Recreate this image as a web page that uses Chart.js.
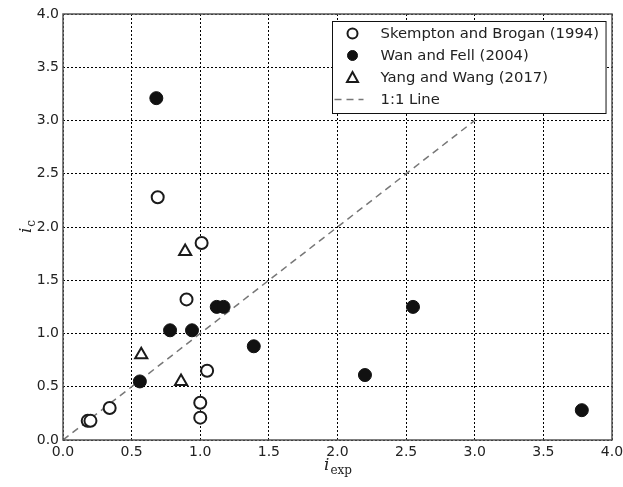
<!DOCTYPE html>
<html>
<head>
<meta charset="utf-8">
<script src="https://cdn.jsdelivr.net/npm/chart.js@4.4.1/dist/chart.umd.min.js"></script>
<style>
  body { margin: 0; background: #fff; }
  #wrap { width: 623px; height: 487px; }
</style>
</head>
<body>
<div id="wrap"><canvas id="myChart" width="623" height="487"></canvas></div>
<script>
// data
const skemptonX = [0.69, 1.01, 0.90, 1.05, 1.00, 1.00, 0.34, 0.18, 0.20];
const skemptonY = [2.28, 1.85, 1.32, 0.65, 0.35, 0.21, 0.30, 0.18, 0.18];
const wanX = [0.68, 0.78, 0.94, 1.12, 1.17, 1.39, 0.56, 2.55, 2.20, 3.78];
const wanY = [3.21, 1.03, 1.03, 1.25, 1.25, 0.88, 0.55, 1.25, 0.61, 0.28];
const yangX = [0.89, 0.57, 0.86];
const yangY = [1.77, 0.80, 0.55];
const lineX = [0, 3];
const lineY = [0, 3];
const labels = ['Skempton and Brogan (1994)', 'Wan and Fell (2004)', 'Yang and Wang (2017)', '1:1 Line'];
const axisMin = 0, axisMax = 4, axisStep = 0.5;

function pts(xs, ys) {
  return xs.map((x, i) => ({ x: x, y: ys[i] }));
}

const tickFont = { family: 'DejaVu Sans', size: 14 };

// matplotlib style box round the plot
const frame = {
  id: 'frame',
  afterDatasetsDraw(chart) {
    const a = chart.chartArea, ctx = chart.ctx;
    ctx.save();
    ctx.strokeStyle = '#555';
    ctx.lineWidth = 1.5;
    ctx.strokeRect(a.left, a.top, a.right - a.left, a.bottom - a.top);
    ctx.restore();
  }
};

// axis titles with subscripts
const axisTitles = {
  id: 'axisTitles',
  afterDraw(chart) {
    const a = chart.chartArea, ctx = chart.ctx;
    ctx.save();
    ctx.fillStyle = '#222';
    ctx.textBaseline = 'alphabetic';
    // x title
    let cx = (a.left + a.right) / 2;
    ctx.font = 'italic 17px "DejaVu Serif"';
    const wi = ctx.measureText('i').width;
    ctx.font = '12px "DejaVu Serif"';
    const ws = ctx.measureText('exp').width;
    let x0 = cx - (wi + ws) / 2;
    ctx.font = 'italic 17px "DejaVu Serif"';
    ctx.fillText('i', x0, 470);
    ctx.font = '12px "DejaVu Serif"';
    ctx.fillText('exp', x0 + wi + 1, 474);
    // y title
    const cy = (a.top + a.bottom) / 2;
    ctx.translate(31, cy);
    ctx.rotate(-Math.PI / 2);
    ctx.font = '12px "DejaVu Serif"';
    const wc = ctx.measureText('c').width;
    x0 = -(wi + wc) / 2;
    ctx.font = 'italic 17px "DejaVu Serif"';
    ctx.fillText('i', x0, 0);
    ctx.font = '12px "DejaVu Serif"';
    ctx.fillText('c', x0 + wi + 1, 4);
    ctx.restore();
  }
};

// boxed legend in the top right corner
const boxLegend = {
  id: 'boxLegend',
  afterDraw(chart) {
    const a = chart.chartArea, ctx = chart.ctx;
    const ds = chart.data.datasets;
    ctx.save();
    ctx.font = '14.8px "DejaVu Sans"';
    let tw = 0;
    ds.forEach(d => { tw = Math.max(tw, ctx.measureText(d.label).width); });
    const rowH = 22;
    const w = 48 + tw + 7, h = rowH * ds.length + 4;
    const left = Math.round(a.right - 6 - w) + 0.5, top = Math.round(a.top + 7) + 0.5;
    ctx.fillStyle = '#fff';
    ctx.fillRect(left, top, w, h);
    ctx.strokeStyle = '#111';
    ctx.lineWidth = 1;
    ctx.strokeRect(left, top, w, h);
    ds.forEach((d, i) => {
      const cy = top + 12 + i * rowH;
      const mx = left + 20;
      if (d.showLine) {
        ctx.save();
        ctx.strokeStyle = d.borderColor;
        ctx.lineWidth = d.borderWidth;
        ctx.setLineDash(d.borderDash);
        ctx.beginPath();
        ctx.moveTo(left + 2, cy);
        ctx.lineTo(left + 31, cy);
        ctx.stroke();
        ctx.restore();
      } else {
        ctx.fillStyle = d.backgroundColor;
        ctx.strokeStyle = d.borderColor;
        ctx.lineWidth = d.borderWidth;
        ctx.beginPath();
        if (d.pointStyle === 'triangle') {
          const r = 5.5;
          ctx.moveTo(mx, cy - r);
          ctx.lineTo(mx + r, cy + r * 0.8);
          ctx.lineTo(mx - r, cy + r * 0.8);
          ctx.closePath();
        } else {
          ctx.arc(mx, cy, 5, 0, Math.PI * 2);
        }
        ctx.fill();
        ctx.stroke();
      }
      ctx.fillStyle = '#222';
      ctx.textBaseline = 'middle';
      ctx.fillText(d.label, left + 48, cy + 1);
    });
    ctx.restore();
  }
};

const ctx = document.getElementById('myChart').getContext('2d');

let myChart = new Chart(ctx, {
  type: 'scatter',
  data: {
    datasets: [
      {
        label: labels[0],
        data: pts(skemptonX, skemptonY),
        pointStyle: 'circle',
        pointRadius: 6,
        backgroundColor: '#fff',
        borderColor: '#1a1a1a',
        borderWidth: 2,
        order: 1
      },
      {
        label: labels[1],
        data: pts(wanX, wanY),
        pointStyle: 'circle',
        pointRadius: 6.5,
        backgroundColor: '#111',
        borderColor: '#111',
        borderWidth: 1,
        order: 1
      },
      {
        label: labels[2],
        data: pts(yangX, yangY),
        pointStyle: 'triangle',
        pointRadius: 7,
        backgroundColor: '#fff',
        borderColor: '#1a1a1a',
        borderWidth: 2,
        order: 1
      },
      {
        label: labels[3],
        data: pts(lineX, lineY),
        showLine: true,
        pointRadius: 0,
        borderColor: '#777',
        backgroundColor: '#777',
        borderWidth: 1.5,
        borderDash: [7, 5],
        order: 10
      }
    ]
  },
  options: {
    responsive: false,
    animation: false,
    layout: { padding: { top: 14, right: 11, left: 0, bottom: 0 } },
    plugins: {
      legend: { display: false },
      tooltip: { enabled: false }
    },
    scales: {
      x: {
        type: 'linear',
        min: axisMin,
        max: axisMax,
        ticks: {
          stepSize: axisStep,
          font: tickFont,
          color: '#222',
          padding: 4,
          maxRotation: 0,
          callback: v => v.toFixed(1)
        },
        grid: { color: '#000', lineWidth: 1, drawTicks: false },
        border: { display: true, width: 0, dash: [2, 2] },
        afterFit(scale) { scale.height = 47; scale.paddingLeft = 0; scale.paddingRight = 0; }
      },
      y: {
        type: 'linear',
        min: axisMin,
        max: axisMax,
        ticks: {
          stepSize: axisStep,
          font: tickFont,
          color: '#222',
          padding: 4,
          callback: v => v.toFixed(1)
        },
        grid: { color: '#000', lineWidth: 1, drawTicks: false },
        border: { display: true, width: 0, dash: [2, 2] },
        afterFit(scale) { scale.width = 63; scale.paddingTop = 0; scale.paddingBottom = 0; }
      }
    }
  },
  plugins: [frame, axisTitles, boxLegend]
});
</script>
</body>
</html>
